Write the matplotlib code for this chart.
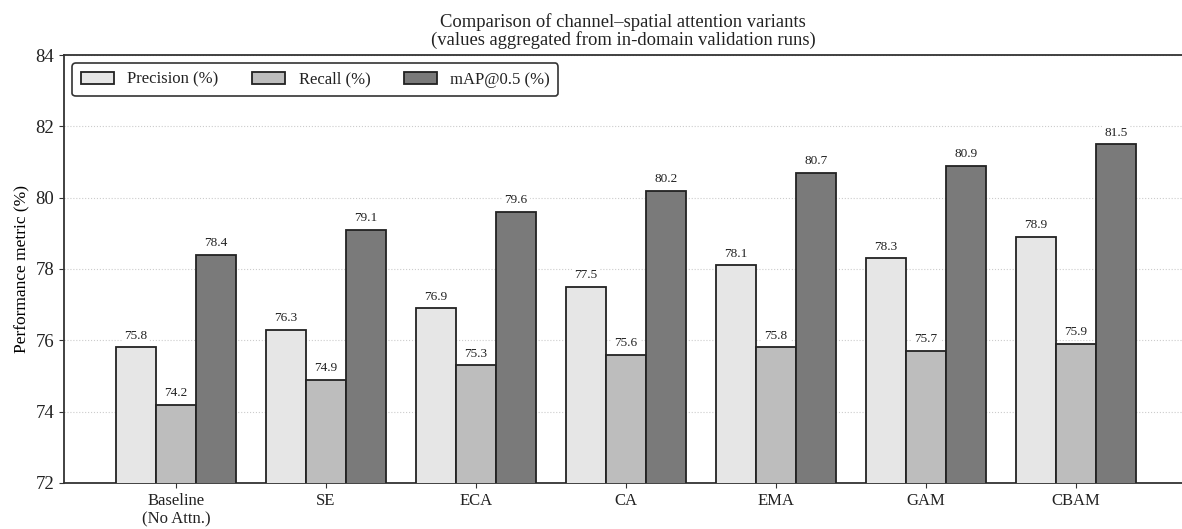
import numpy as np
import matplotlib
matplotlib.use("Agg")
import matplotlib.pyplot as plt

plt.rcParams["font.family"] = ["Liberation Serif", "DejaVu Serif"]
plt.rcParams["text.color"] = "#222222"
plt.rcParams["xtick.color"] = "#333333"
plt.rcParams["ytick.color"] = "#333333"
plt.rcParams["xtick.labelcolor"] = "#222222"
plt.rcParams["ytick.labelcolor"] = "#222222"

# Datos
variantes = ["Baseline\n(No Attn.)", "SE", "ECA", "CA", "EMA", "GAM", "CBAM"]
precision = [75.8, 76.3, 76.9, 77.5, 78.1, 78.3, 78.9]
recall = [74.2, 74.9, 75.3, 75.6, 75.8, 75.7, 75.9]
map50 = [78.4, 79.1, 79.6, 80.2, 80.7, 80.9, 81.5]

series = [
    ("Precision (%)", precision, "#e6e6e6"),
    ("Recall (%)", recall, "#bdbdbd"),
    ("mAP@0.5 (%)", map50, "#7a7a7a"),
]

fig = plt.figure(figsize=(11.82, 5.29), dpi=100)
ax = fig.add_axes([0.0541, 0.087, 0.9459, 0.809])

x = np.arange(len(variantes))
width = 0.267
for i, (nombre, vals, color) in enumerate(series):
    pos = x + (i - 1) * width
    ax.bar(pos, vals, width, color=color, edgecolor="#222222", linewidth=1.3,
           label=nombre, zorder=3)
    for px, v in zip(pos, vals):
        ax.annotate(f"{v:.1f}", (px, v), xytext=(0, 4), textcoords="offset points",
                    ha="center", va="bottom", fontsize=9.5, zorder=4,
                    bbox=dict(boxstyle="square,pad=0.15", facecolor="white",
                              edgecolor="none"))

ax.set_xlim(-0.747, 6.707)
ax.set_ylim(72, 84)
ax.set_yticks(np.arange(72, 85, 2))
ax.set_xticks(x)
ax.set_xticklabels(variantes, fontsize=12)
ax.tick_params(axis="y", labelsize=13.5)
ax.set_ylabel("Performance metric (%)", fontsize=12.5)
ax.set_title("Comparison of channel\u2013spatial attention variants\n"
             "(values aggregated from in-domain validation runs)",
             fontsize=13.4, linespacing=1.0, pad=7)

ax.grid(axis="y", color="#cccccc", ls=":", lw=0.8, zorder=0)
ax.spines["right"].set_visible(False)
for s in ["left", "bottom", "top"]:
    ax.spines[s].set_color("#333333")
    ax.spines[s].set_linewidth(1.3)

leg = ax.legend(loc="upper left", ncol=3, fontsize=12, frameon=True,
                fancybox=True, edgecolor="#333333", handlelength=2.0,
                columnspacing=2.0, borderpad=0.5)
leg.get_frame().set_linewidth(1.2)
leg.get_frame().set_alpha(1)

fig.savefig("out.png", dpi=100)
